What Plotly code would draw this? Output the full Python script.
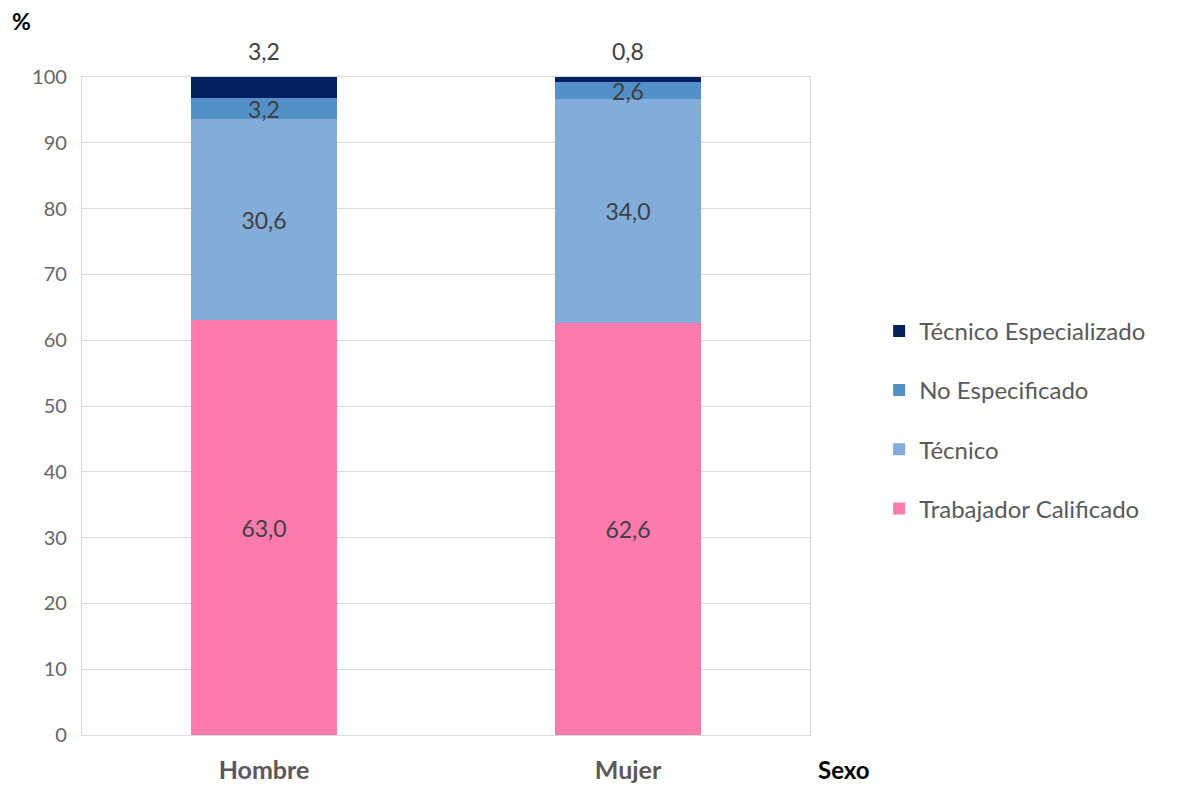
import plotly.graph_objects as go

categories = ["Hombre", "Mujer"]
series_names = ["Trabajador Calificado", "Técnico", "No Especificado", "Técnico Especializado"]
trabajador = [63.0, 62.6]
tecnico = [30.6, 34.0]
no_especificado = [3.2, 2.6]
tecnico_esp = [3.2, 0.8]
y_ticks = [0, 10, 20, 30, 40, 50, 60, 70, 80, 90, 100]

values = [trabajador, tecnico, no_especificado, tecnico_esp]
colors = ["#FF7BAC", "#82ACDA", "#5390C8", "#00205F"]

FONT = "Lato"
def fmt(v):
    return f"{v:.1f}".replace(".", ",")

fig = go.Figure()
for i, (name, vals, col) in enumerate(zip(series_names, values, colors)):
    top = i == len(series_names) - 1
    fig.add_trace(go.Bar(
        x=categories, y=vals, name=name, marker=dict(color=col, line=dict(width=0)),
        text=None if top else [fmt(v) for v in vals],
        textposition="none" if top else "inside",
        insidetextanchor="middle",
        textangle=0,
        constraintext="none",
        cliponaxis=False,
        textfont=dict(family=FONT, size=23, color="#404040"),
        legendgroup=name,
        legendrank=len(series_names) - i,
    ))

# labels above the stacks for the top series
for j, cat in enumerate(categories):
    total = sum(v[j] for v in values)
    fig.add_annotation(x=cat, y=total, xref="x", yref="y", text=fmt(tecnico_esp[j]),
                       showarrow=False, yanchor="bottom", yshift=10,
                       font=dict(family=FONT, size=23, color="#404040"))

fig.update_layout(
    width=1195, height=785,
    barmode="stack", bargap=0.6,
    paper_bgcolor="white", plot_bgcolor="white",
    margin=dict(l=82, r=385, t=77, b=50, autoexpand=False),
    font=dict(family=FONT, color="#595959"),
    legend=dict(
        x=1.095, y=0.479, xanchor="left", yanchor="middle",
        traceorder="grouped", tracegroupgap=25,
        font=dict(family=FONT, size=24, color="#595959"),
        itemwidth=30,
    ),
    showlegend=True,
)
fig.update_yaxes(
    range=[0, 100], tickvals=y_ticks, showgrid=True, gridcolor="#D9D9D9", gridwidth=1.3,
    tickfont=dict(family=FONT, size=20, color="#666666"),
    showline=True, linecolor="#D9D9D9", linewidth=1.3, mirror=True,
    zeroline=False, ticks="", ticklabelstandoff=10, automargin=False,
)
fig.update_xaxes(
    showline=True, linecolor="#D9D9D9", linewidth=1.3, mirror=True,
    tickfont=dict(family=FONT, size=25, color="#595959", weight="bold"),
    ticks="", ticklabelstandoff=13, automargin=False,
)
fig.add_annotation(text="<b>%</b>", xref="paper", yref="paper", x=-0.083, y=1.0,
                   xanchor="center", yanchor="bottom", yshift=40, showarrow=False,
                   font=dict(family=FONT, size=23, color="black"))
fig.add_annotation(text="<b>Sexo</b>", xref="paper", yref="paper", x=1.0, y=0,
                   xanchor="left", yanchor="middle", xshift=6, yshift=-34, showarrow=False,
                   font=dict(family=FONT, size=24, color="black"))

fig.write_html("out.html")
